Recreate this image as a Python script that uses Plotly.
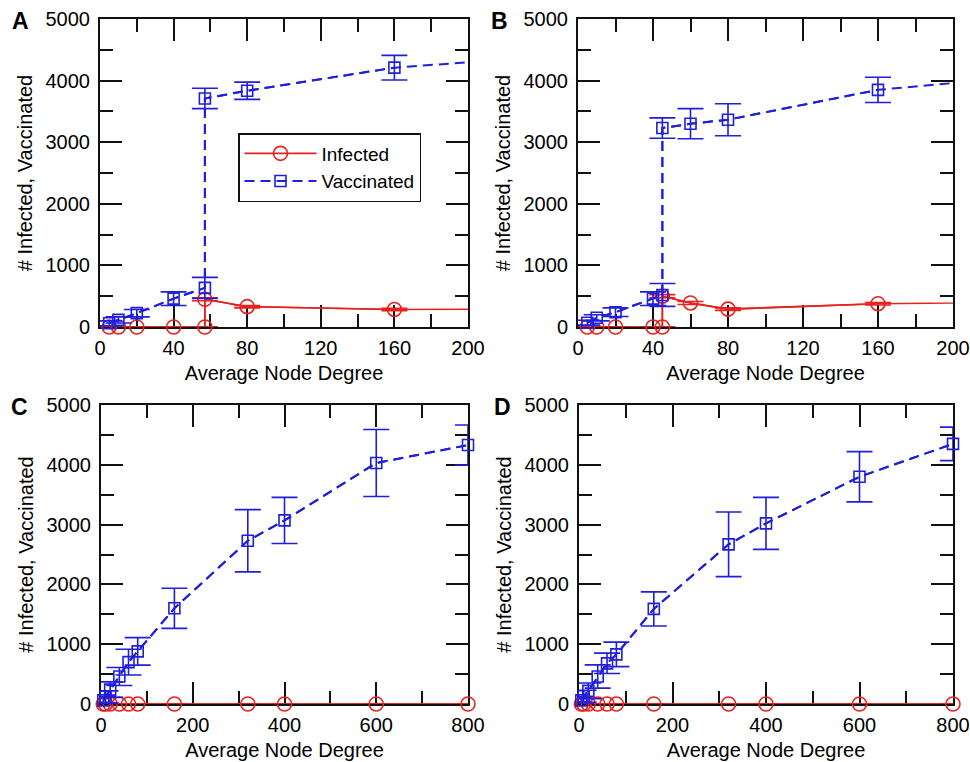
import plotly.graph_objects as go

# ---------------- data ----------------
# Panel A
a_deg = [5, 10, 20, 40, 57, 57, 80, 160, 320]
a_inf = [0, 0, 0, 0, 0, 450, 330, 285, 295]
a_inf_err = [5, 5, 5, 5, 5, 25, 20, 20, 20]
a_vac = [60, 115, 225, 460, 635, 3710, 3835, 4210, 4560]
a_vac_err = [40, 50, 60, 110, 170, 165, 140, 200, 200]

# Panel B
b_deg = [5, 10, 20, 40, 45, 45, 60, 80, 160, 320]
b_inf = [0, 0, 0, 0, 0, 500, 390, 290, 378, 420]
b_inf_err = [5, 5, 5, 5, 5, 25, 25, 20, 20, 20]
b_vac = [70, 150, 240, 460, 520, 3230, 3300, 3365, 3850, 4290]
b_vac_err = [40, 50, 70, 110, 185, 165, 245, 260, 205, 200]

# Panels C and D
cd_deg = [5, 10, 20, 40, 60, 80, 160, 320, 400, 600, 800]
c_inf = [0, 0, 0, 0, 0, 0, 0, 0, 0, 0, 0]
c_inf_err = [5, 5, 5, 5, 5, 5, 5, 5, 5, 5, 5]
c_vac = [60, 120, 240, 460, 700, 880, 1600, 2730, 3070, 4030, 4330]
c_vac_err = [60, 100, 130, 150, 215, 230, 335, 520, 385, 560, 335]
d_inf = [0, 0, 0, 0, 0, 0, 0, 0, 0, 0, 0]
d_inf_err = [5, 5, 5, 5, 5, 5, 5, 5, 5, 5, 5]
d_vac = [60, 130, 220, 460, 680, 830, 1590, 2670, 3020, 3800, 4350]
d_vac_err = [60, 100, 130, 195, 170, 205, 285, 540, 435, 420, 280]

panel_letters = ["A", "B", "C", "D"]
x_title = "Average Node Degree"
y_title = "# Infected, Vaccinated"

# ---------------- style ----------------
RED = "#e8211d"
BLUE = "#1f1fdc"
FONT = "Liberation Sans, Arial, Helvetica, sans-serif"
W, H = 970, 762


def px_x(p):
    return p / W


def px_y(p):
    return 1 - p / H


fig = go.Figure()


def add_series(xs, ys, errs, xmax, color, symbol, msize, dash, name, axn, legend):
    xa = "x" if axn == 1 else f"x{axn}"
    ya = "y" if axn == 1 else f"y{axn}"
    line = dict(color=color, width=1.6 if dash == "solid" else 2, dash=dash)
    # full line (clipped by the plot area) including points past the range
    fig.add_trace(go.Scatter(x=xs, y=ys, mode="lines", line=line, xaxis=xa, yaxis=ya,
                             showlegend=False, hoverinfo="skip"))
    keep = [i for i, v in enumerate(xs) if v <= xmax]
    fig.add_trace(go.Scatter(
        x=[xs[i] for i in keep], y=[ys[i] for i in keep],
        mode="lines+markers", name=name, line=line,
        marker=dict(symbol=symbol, size=msize, color=color, line=dict(color=color, width=1.6)),
        error_y=dict(type="data", array=[errs[i] for i in keep], visible=True,
                     color=color, thickness=1.6, width=13),
        cliponaxis=False, xaxis=xa, yaxis=ya, showlegend=legend))


panels = [
    (1, a_deg, a_inf, a_inf_err, a_vac, a_vac_err, 200),
    (2, b_deg, b_inf, b_inf_err, b_vac, b_vac_err, 200),
    (3, cd_deg, c_inf, c_inf_err, c_vac, c_vac_err, 800),
    (4, cd_deg, d_inf, d_inf_err, d_vac, d_vac_err, 800),
]
for axn, xs, inf, inf_e, vac, vac_e, xmax in panels:
    add_series(xs, inf, inf_e, xmax, RED, "circle-open", 14, "solid", "Infected", axn, axn == 1)
    add_series(xs, vac, vac_e, xmax, BLUE, "square-open", 11, "10px,6px", "Vaccinated", axn, axn == 1)

# domains in reference pixels -> paper
xdom = {1: (100, 468), 2: (578, 953), 3: (101, 468), 4: (579, 953)}
ydom = {1: (19, 327), 2: (19, 327), 3: (405, 704), 4: (405, 704)}


def axis_common():
    return dict(ticks="inside", ticklen=22, tickwidth=1.8, tickcolor="#111",
                showline=True, linecolor="#111", linewidth=2, mirror="allticks",
                showgrid=False, zeroline=False, layer="below traces", automargin=False,
                tickfont=dict(family=FONT, size=20, color="black"))


for axn in range(1, 5):
    xmax = 200 if axn <= 2 else 800
    xd = 40 if axn <= 2 else 200
    xmd = 20 if axn <= 2 else 100
    sfx = "" if axn == 1 else str(axn)
    xa = axis_common()
    xa.update(range=[0, xmax], tick0=0, dtick=xd, anchor="y" + sfx,
              domain=[px_x(xdom[axn][0]), px_x(xdom[axn][1])],
              ticklabelstandoff=2,
              minor=dict(ticks="inside", ticklen=13, tickwidth=1.8, tickcolor="#111",
                         dtick=xmd, tick0=0, showgrid=False),
              title=dict(text=x_title, font=dict(family=FONT, size=20, color="black"), standoff=8))
    ya = axis_common()
    ya.update(range=[0, 5000], tick0=0, dtick=1000, anchor="x" + sfx,
              domain=[px_y(ydom[axn][1]), px_y(ydom[axn][0])],
              ticklabelstandoff=4,
              minor=dict(ticks="inside", ticklen=13, tickwidth=1.8, tickcolor="#111",
                         dtick=500, tick0=0, showgrid=False),
              title=dict(text=y_title, font=dict(family=FONT, size=20, color="black"), standoff=8))
    fig.layout["xaxis" + sfx] = xa
    fig.layout["yaxis" + sfx] = ya

letter_pos = [(20, 21), (500, 21), (19, 407), (502, 407)]
for letter, (px, py) in zip(panel_letters, letter_pos):
    fig.add_annotation(text=f"<b>{letter}</b>", x=px_x(px), y=px_y(py), xref="paper", yref="paper",
                       showarrow=False, xanchor="center", yanchor="middle",
                       font=dict(family=FONT, size=23, color="black"))

fig.update_layout(
    width=W, height=H, autosize=False,
    margin=dict(l=0, r=0, t=0, b=0),
    paper_bgcolor="white", plot_bgcolor="white",
    font=dict(family=FONT, size=20, color="black"),
    legend=dict(x=px_x(238), y=px_y(133), xanchor="left", yanchor="top",
                bordercolor="#111", borderwidth=1.5, bgcolor="white",
                font=dict(family=FONT, size=19, color="black"),
                itemwidth=72, tracegroupgap=0),
)

fig.write_html("out.html", config={"displayModeBar": False},
               post_script="document.body.style.margin='0';document.body.style.overflow='hidden';")
